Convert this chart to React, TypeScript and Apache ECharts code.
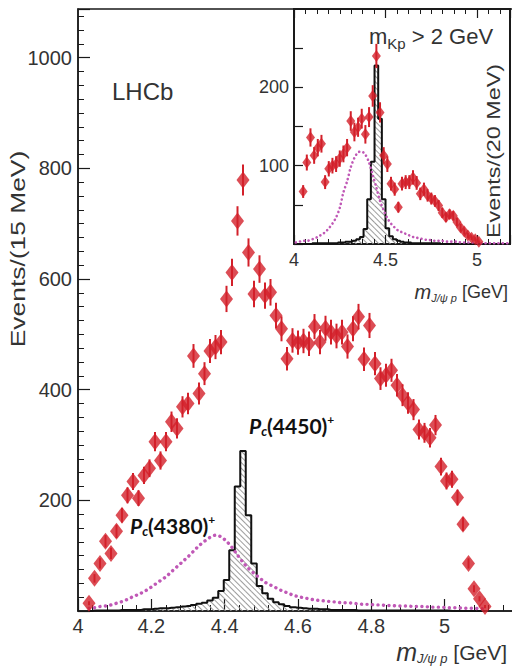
import React, { useEffect, useRef } from 'react';
import * as echarts from 'echarts';

// ---- Main panel: J/psi p mass, 15 MeV bins ----
const MAIN_START = 4.03;
const MAIN_STEP = 0.015;

const mainEvents = [
  14, 59, 86, 126, 104, 144, 173, 209, 234, 204,
  245, 258, 306, 272, 306, 342, 330, 369, 375, 461,
  393, 429, 470, 477, 486, 564, 612, 705, 779, 648,
  573, 618, 570, 576, 534, 510, 456, 489, 485, 488,
  483, 514, 486, 511, 504, 497, 504, 478, 510, 532,
  455, 516, 447, 420, 426, 435, 408, 390, 376, 364,
  328, 322, 313, 336, 261, 235, 238, 205, 157, 86,
  40, 22, 8,
];

const pc4450Main = [
  0, 1, 1, 1, 1, 1, 2, 2, 2, 2, 3, 3,
  4, 5, 5, 6, 7, 8, 9, 11, 13, 15, 19, 24,
  36, 56, 110, 225, 289, 173, 86, 45, 32, 22, 16, 12,
  9, 7, 6, 5, 4, 4, 3, 3, 2, 2, 2, 2,
  2, 1, 1, 1, 1, 1, 1, 1, 1, 1, 1, 1,
  1, 1, 1, 1, 1, 1, 0, 0, 0, 0, 0, 0, 0,
];

const pc4380Main = [
  5, 6, 8, 9, 11, 14, 17, 21, 26, 30,
  35, 41, 48, 55, 62, 71, 80, 89, 98, 108,
  118, 126, 133, 137, 134, 126, 115, 101, 88, 77,
  68, 60, 52, 47, 42, 37, 33, 29, 26, 24,
  22, 20, 19, 18, 17, 16, 15, 15, 14, 13,
  12, 12, 11, 11, 10, 10, 9, 9, 9, 8,
  8, 8, 7, 7, 7, 6, 6, 6, 5, 5,
  5, 4, 4,
];

// ---- Inset: m_Kp > 2 GeV, 20 MeV bins ----
const INSET_DATA_START = 4.05;
const INSET_MODEL_START = 4.01;
const INSET_STEP = 0.02;

const insetEvents = [
  67, 104, 136, 113, 123, 128, 79, 96, 100, 102,
  109, 115, 123, 157, 143, 149, 160, 140, 162, 189,
  240, 168, 113, 102, 77, 70, 47, 77, 79, 79,
  85, 78, 64, 70, 62, 58, 55, 49, 40, 34,
  38, 36, 28, 21, 16, 11, 8, 6, 3,
];

const pc4450Inset = [
  0, 0, 0, 0, 0, 1, 1, 1, 1, 1,
  1, 1, 2, 2, 3, 3, 4, 6, 9, 19,
  57, 105, 228, 160, 57, 20, 10, 6, 4, 3,
  2, 2, 1, 1, 1, 1, 1, 1, 1, 1,
  0, 0, 0, 0, 0, 0, 0, 0, 0, 0,
  0, 0, 0, 0, 0, 0, 0, 0, 0,
];

const pc4380Inset = [
  2, 3, 4, 4, 5, 7, 9, 12, 15, 20,
  26, 34, 46, 66, 80, 98, 110, 117, 118, 114,
  104, 88, 72, 55, 43, 33, 26, 21, 17, 15,
  13, 11, 9, 8, 7, 6, 5, 5, 4, 4,
  4, 3, 3, 3, 3, 2, 2, 2, 2, 2,
  1, 1, 1, 1, 1, 1, 1, 1, 1,
];

const mainXTicks = { min: 4, max: 5.2, interval: 0.2 };
const mainYTicks = { min: 0, max: 1088, interval: 200 };
const insetXTicks = { min: 4, max: 5.18, interval: 0.5 };
const insetYTicks = { min: 0, max: 300, interval: 50 };
const insetYLabels = [100, 200];

const RED = '#d3202a';
const MAGENTA = '#c058b6';
const AXIS = '#1a1a1a';
const TEXT = '#333';
const FONT = '"Liberation Sans", Arial, sans-serif';

const binned = (start: number, step: number, vals: number[]) =>
  vals.map((v, i) => [+(start + i * step).toFixed(4), v]);

// Poisson uncertainty on each bin count
const withErrors = (pts: number[][]) =>
  pts.map(([x, n]) => [x, n - Math.sqrt(n), n + Math.sqrt(n)]);

const errorBarRender = (params: any, api: any) => {
  const x = api.value(0);
  const p1 = api.coord([x, api.value(1)]);
  const p2 = api.coord([x, api.value(2)]);
  return {
    type: 'line',
    shape: { x1: p1[0], y1: p1[1], x2: p2[0], y2: p2[1] },
    style: { stroke: RED, lineWidth: 2 },
  };
};

const hatch = {
  symbol: 'rect',
  symbolSize: 1,
  color: '#9c9c9c',
  dashArrayX: [1, 0],
  dashArrayY: [1, 3],
  rotation: Math.PI / 4,
};

const pcRich = {
  p: { fontSize: 21, fontWeight: 'bold', fontStyle: 'italic', fontFamily: 'Lato', fill: '#111', lineHeight: 24 },
  c: { fontSize: 13, fontWeight: 'bold', fontStyle: 'italic', fontFamily: 'Lato', fill: '#111', lineHeight: 24, verticalAlign: 'bottom' },
  n: { fontSize: 21, fontWeight: 'bold', fontFamily: 'Lato', fill: '#111', lineHeight: 24 },
  u: { fontSize: 12, fontWeight: 'bold', fontFamily: 'Lato', fill: '#111', lineHeight: 24, verticalAlign: 'top' },
};

function buildOption() {
  const mainPts = binned(MAIN_START, MAIN_STEP, mainEvents);
  const mainPc4450 = binned(MAIN_START, MAIN_STEP, pc4450Main);
  const mainPc4380 = binned(MAIN_START, MAIN_STEP, pc4380Main);
  const insetPts = binned(INSET_DATA_START, INSET_STEP, insetEvents);
  const insPc4450 = binned(INSET_MODEL_START, INSET_STEP, pc4450Inset);
  const insPc4380 = binned(INSET_MODEL_START, INSET_STEP, pc4380Inset);

  const tickAxisCommon = {
    type: 'value' as const,
    axisLine: { show: true, lineStyle: { color: AXIS, width: 1.5 } },
    splitLine: { show: false },
  };

  return {
    animation: false,
    backgroundColor: '#fff',
    grid: [
      {
        left: 78, top: 9, width: 440, height: 602,
        show: true, borderColor: AXIS, borderWidth: 1.5, backgroundColor: 'transparent',
      },
      {
        left: 294, top: 9, width: 216, height: 235,
        show: true, borderColor: AXIS, borderWidth: 2, backgroundColor: '#fff', z: 5,
      },
    ],
    xAxis: [
      {
        ...tickAxisCommon,
        gridIndex: 0,
        ...mainXTicks,
        axisTick: { inside: true, length: 12, lineStyle: { color: AXIS, width: 1.2 } },
        minorTick: { show: true, splitNumber: 5, length: 6, lineStyle: { color: AXIS, width: 1 } },
        axisLabel: {
          fontSize: 20, fontFamily: FONT, color: TEXT, margin: 5, showMaxLabel: false,
          formatter: (v: number) => String(Math.round(v * 10) / 10),
        },
      },
      {
        ...tickAxisCommon,
        gridIndex: 1,
        ...insetXTicks,
        z: 6,
        axisLine: { show: true, lineStyle: { color: AXIS, width: 2 } },
        axisTick: { inside: true, length: 9, lineStyle: { color: AXIS, width: 1.2 } },
        minorTick: { show: true, splitNumber: 8, length: 5, lineStyle: { color: AXIS, width: 1 } },
        axisLabel: {
          fontSize: 18, fontFamily: FONT, color: TEXT, margin: 7, showMaxLabel: false,
          formatter: (v: number) => String(Math.round(v * 10) / 10),
        },
      },
      {
        ...tickAxisCommon,
        gridIndex: 1,
        position: 'top',
        ...insetXTicks,
        z: 6,
        axisLine: { show: true, lineStyle: { color: AXIS, width: 2 } },
        axisTick: { inside: true, length: 9, lineStyle: { color: AXIS, width: 1.2 } },
        minorTick: { show: true, splitNumber: 8, length: 5, lineStyle: { color: AXIS, width: 1 } },
        axisLabel: { show: false },
      },
    ],
    yAxis: [
      {
        ...tickAxisCommon,
        gridIndex: 0,
        ...mainYTicks,
        axisTick: { inside: true, length: 12, lineStyle: { color: AXIS, width: 1.2 } },
        minorTick: { show: true, splitNumber: 8, length: 6, lineStyle: { color: AXIS, width: 1 } },
        axisLabel: {
          fontSize: 20, fontFamily: FONT, color: TEXT, margin: 6, showMaxLabel: false,
          formatter: (v: number) => (v === 0 ? '' : String(v)),
        },
      },
      {
        ...tickAxisCommon,
        gridIndex: 1,
        ...insetYTicks,
        z: 6,
        axisLine: { show: true, lineStyle: { color: AXIS, width: 2 } },
        axisTick: { inside: true, length: 9, lineStyle: { color: AXIS, width: 1.2 } },
        axisLabel: {
          fontSize: 18, fontFamily: FONT, color: TEXT, margin: 5, showMaxLabel: false,
          formatter: (v: number) => (insetYLabels.includes(v) ? String(v) : ''),
        },
      },
    ],
    series: [
      // main panel
      {
        type: 'bar', xAxisIndex: 0, yAxisIndex: 0, data: mainPc4450, barWidth: 5.6, z: 1,
        itemStyle: { color: 'rgba(255,255,255,0)', decal: hatch },
        silent: true,
      },
      {
        type: 'line', xAxisIndex: 0, yAxisIndex: 0, data: mainPc4450, step: 'middle',
        symbol: 'none', z: 2, lineStyle: { color: '#111', width: 2 }, silent: true,
      },
      {
        type: 'line', xAxisIndex: 0, yAxisIndex: 0, data: mainPc4380, smooth: 0.3,
        symbol: 'none', z: 3, silent: true,
        lineStyle: { color: MAGENTA, width: 3.4, type: [0.1, 5.4], cap: 'round' },
      },
      {
        type: 'custom', xAxisIndex: 0, yAxisIndex: 0, data: withErrors(mainPts),
        renderItem: errorBarRender, z: 4, silent: true,
      },
      {
        type: 'scatter', xAxisIndex: 0, yAxisIndex: 0, data: mainPts,
        symbol: 'diamond', symbolSize: [13, 17], z: 5, silent: true,
        itemStyle: { color: RED },
      },
      // inset
      {
        type: 'bar', xAxisIndex: 1, yAxisIndex: 1, data: insPc4450, barWidth: 3.8, z: 6,
        itemStyle: { color: 'rgba(255,255,255,0)', decal: hatch },
        silent: true,
      },
      {
        type: 'line', xAxisIndex: 1, yAxisIndex: 1, data: insPc4450, step: 'middle',
        symbol: 'none', z: 7, lineStyle: { color: '#111', width: 2 }, silent: true,
      },
      {
        type: 'line', xAxisIndex: 1, yAxisIndex: 1, data: insPc4380, smooth: 0.3,
        symbol: 'none', z: 8, silent: true,
        lineStyle: { color: MAGENTA, width: 2.6, type: [0.1, 4.2], cap: 'round' },
      },
      {
        type: 'custom', xAxisIndex: 1, yAxisIndex: 1, data: withErrors(insetPts),
        renderItem: errorBarRender, z: 9, silent: true,
      },
      {
        type: 'scatter', xAxisIndex: 1, yAxisIndex: 1, data: insetPts,
        symbol: 'diamond', symbolSize: [9, 12], z: 10, silent: true,
        itemStyle: { color: RED },
      },
    ],
    graphic: [
      {
        type: 'text', x: 112, y: 91, z: 20,
        style: { text: 'LHCb', fontSize: 24, fontFamily: FONT, fill: TEXT, verticalAlign: 'middle' },
      },
      {
        type: 'text', x: 18, y: 249, rotation: Math.PI / 2, scaleX: 1.32, z: 20,
        style: {
          text: 'Events/(15 MeV)', fontSize: 20, fontFamily: FONT, fill: TEXT,
          align: 'center', verticalAlign: 'middle',
        },
      },
      {
        type: 'text', x: 494, y: 151, rotation: Math.PI / 2, scaleX: 1.3, z: 20,
        style: {
          text: 'Events/(20 MeV)', fontSize: 18, fontFamily: FONT, fill: TEXT,
          align: 'center', verticalAlign: 'middle',
        },
      },
      {
        type: 'text', x: 369, y: 38, z: 20,
        style: {
          text: '{a|m}{b|Kp}{a| > 2 GeV}',
          verticalAlign: 'middle',
          rich: {
            a: { fontSize: 22, fontFamily: FONT, fill: TEXT, lineHeight: 25, verticalAlign: 'top' },
            b: { fontSize: 15, fontFamily: FONT, fill: TEXT, lineHeight: 25, verticalAlign: 'bottom' },
          },
        },
      },
      {
        type: 'text', x: 508, y: 292, z: 20,
        style: {
          text: '{m|m}{s|J/ψ p}{g| [GeV]}',
          align: 'right', verticalAlign: 'middle',
          rich: {
            m: { fontSize: 20, fontStyle: 'italic', fontFamily: FONT, fill: TEXT, lineHeight: 22 },
            s: { fontSize: 11, fontStyle: 'italic', fontFamily: FONT, fill: TEXT, lineHeight: 22, verticalAlign: 'bottom' },
            g: { fontSize: 18, fontFamily: FONT, fill: TEXT, lineHeight: 22 },
          },
        },
      },
      {
        type: 'text', x: 507, y: 652, z: 20,
        style: {
          text: '{m|m}{s|J/ψ p}{g| [GeV]}',
          align: 'right', verticalAlign: 'middle',
          rich: {
            m: { fontSize: 25, fontStyle: 'italic', fontFamily: FONT, fill: TEXT, lineHeight: 26 },
            s: { fontSize: 13, fontStyle: 'italic', fontFamily: FONT, fill: TEXT, lineHeight: 26, verticalAlign: 'bottom' },
            g: { fontSize: 21, fontFamily: FONT, fill: TEXT, lineHeight: 26 },
          },
        },
      },
      {
        type: 'text', x: 249, y: 425, z: 20,
        style: { text: '{p|P}{c|c}{n|(4450)}{u|+}', verticalAlign: 'middle', rich: pcRich },
      },
      {
        type: 'text', x: 130, y: 525, z: 20,
        style: { text: '{p|P}{c|c}{n|(4380)}{u|+}', verticalAlign: 'middle', rich: pcRich },
      },
    ],
  };
}

export default function App() {
  const ref = useRef<HTMLDivElement>(null);
  useEffect(() => {
    if (!ref.current) return;
    const chart = echarts.init(ref.current, null, { renderer: 'svg' });
    chart.setOption(buildOption() as any);
    return () => chart.dispose();
  }, []);
  return (
    <div
      style={{
        position: 'fixed', left: 0, top: 0, width: 512, height: 668,
        overflow: 'hidden', background: '#fff',
      }}
    >
      <div ref={ref} style={{ width: 530, height: 668 }} />
    </div>
  );
}
